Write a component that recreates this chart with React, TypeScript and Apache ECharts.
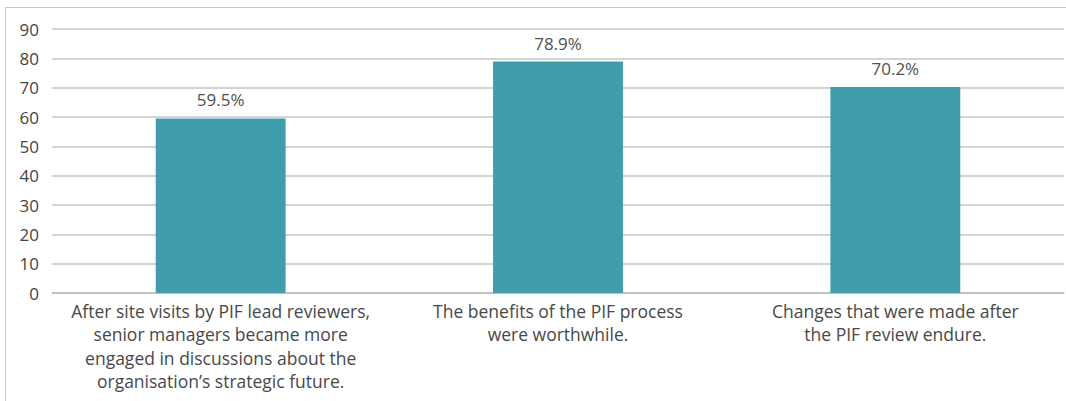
import React, { useEffect, useRef } from "react";
import * as echarts from "echarts";

const categories = [
  "After site visits by PIF lead reviewers,\nsenior managers became more\nengaged in discussions about the\norganisation’s strategic future.",
  "The benefits of the PIF process\nwere worthwhile.",
  "Changes that were made after\nthe PIF review endure.",
];
const values = [59.5, 78.9, 70.2];
const yTicks = { min: 0, max: 90, interval: 10 };

export default function App() {
  const ref = useRef<HTMLDivElement>(null);
  useEffect(() => {
    document.body.style.margin = "0";
    const chart = echarts.init(ref.current!, undefined, { renderer: "svg" });
    chart.setOption({
      animation: false,
      backgroundColor: "#ffffff",
      textStyle: { fontFamily: "Open Sans" },
      graphic: [
        { type: "line", shape: { x1: 5, y1: 7.5, x2: 1066, y2: 7.5 }, style: { stroke: "#c8c8c8", lineWidth: 1 } },
        { type: "line", shape: { x1: 5.5, y1: 7, x2: 5.5, y2: 401 }, style: { stroke: "#c8c8c8", lineWidth: 1 } },
      ],
      grid: { left: 52, right: 2, top: 29, bottom: 108, containLabel: false },
      xAxis: {
        type: "category",
        data: categories,
        axisTick: { show: false },
        axisLine: { lineStyle: { color: "#bdbdbd", width: 1.5 } },
        axisLabel: {
          interval: 0,
          color: "#484848",
          fontSize: 17.5,
          lineHeight: 23.5,
          margin: 6,
          fontFamily: "Open Sans",
        },
      },
      yAxis: {
        type: "value",
        min: yTicks.min,
        max: yTicks.max,
        interval: yTicks.interval,
        axisLine: { show: false },
        axisTick: { show: false },
        splitLine: { lineStyle: { color: "#c4c4c4", width: 1.5 } },
        axisLabel: { color: "#444444", fontSize: 17, margin: 13, fontFamily: "Open Sans" },
      },
      series: [
        {
          type: "bar",
          data: values,
          barWidth: "38.5%",
          itemStyle: { color: "#409dab" },
          label: {
            show: true,
            position: "top",
            distance: 10,
            color: "#505050",
            fontSize: 17,
            fontFamily: "Open Sans",
            formatter: (p: any) => p.value.toFixed(1) + "%",
          },
        },
      ],
    });
    return () => chart.dispose();
  }, []);
  return <div ref={ref} style={{ width: 1066, height: 401 }} />;
}
